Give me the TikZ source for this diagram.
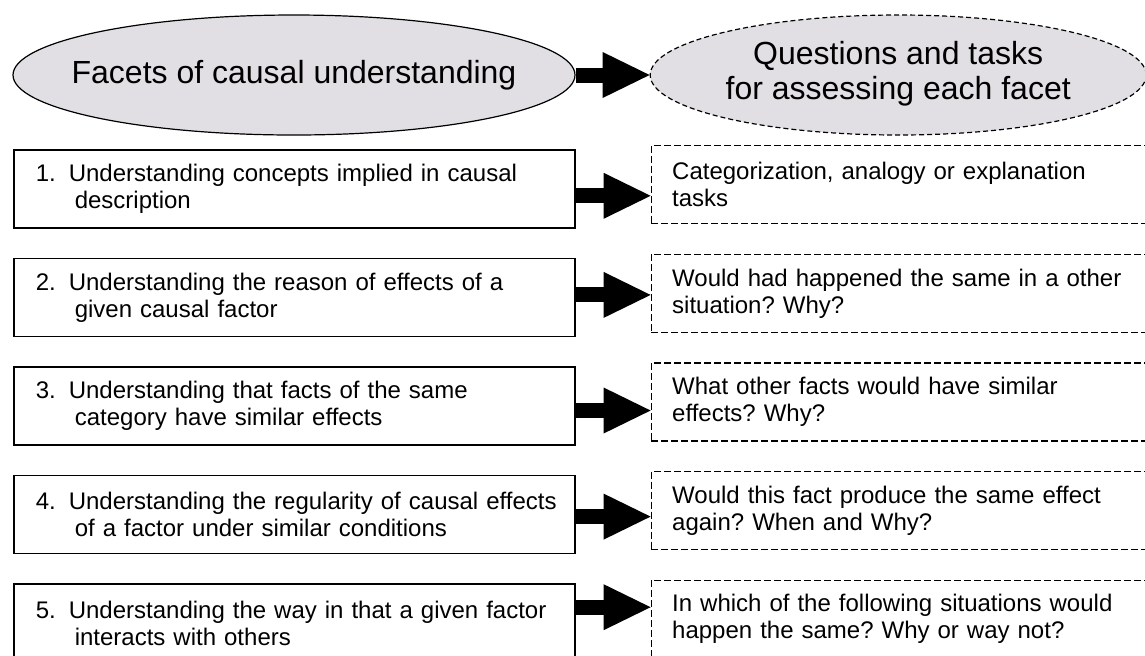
\documentclass[tikz,border=0pt]{standalone}
\usepackage{fontspec}
\setmainfont{Liberation Sans}
\usepackage{tikz}
\usetikzlibrary{positioning}
\usetikzlibrary{shapes.geometric}
\usetikzlibrary{arrows.meta}
\definecolor{ovalgray}{RGB}{225,223,227}
\tikzset{%
  headoval/.style = {ellipse,draw,line width=0.6pt,fill=ovalgray,inner sep=0pt,
        minimum height=60pt,font=\fontsize{16}{17.5}\selectfont},
  facetbox/.style = {rectangle,draw,line width=0.8pt,text width=266pt,
        inner xsep=7.25pt,inner ysep=2pt,minimum height=39pt,align=left,
        font=\fontsize{12}{13.5}\selectfont},
  taskbox/.style = {rectangle,draw,dash pattern=on 3.5pt off 1.5pt,line width=0.6pt,
        text width=234.5pt,inner xsep=10.5pt,inner ysep=2pt,minimum height=39pt,
        align=left,font=\fontsize{12}{13.5}\selectfont},
  bigarrow/.style = {-{Triangle[length=23.5pt,width=23pt,line width=0pt]},line width=7.5pt}
}
\newcommand{\facetno}[1]{\hspace*{3.75pt}\makebox[16.5pt][l]{#1}}
\newcommand{\facetin}{\hspace*{23.25pt}}

\begin{document}
\frenchspacing
\begin{tikzpicture}[x=0.5pt,y=-0.5pt]
                \useasboundingbox (0,0) rectangle (1145,655);
                \clip (0,0) rectangle (1145,655);
                \node[headoval,minimum width=281pt] (fac) at (294,75)
                     {\makebox[0pt]{Facets of causal understanding}};
                \node[headoval,dash pattern=on 2.5pt off 1.5pt,minimum width=248pt] (tsk) [right=37pt of fac]
                     {\makebox[0pt]{\begin{tabular}{@{}c@{}}Questions and tasks\\for assessing each facet\end{tabular}}};
                \draw[bigarrow] (fac) -- (tsk);
                % facets
                \node[facetbox,anchor=north west] (f1) at (13,149)
                     {\facetno{1.}Understanding concepts implied in causal\\\facetin description};
                \node[facetbox] (f2) [below=14.5pt of f1]
                     {\facetno{2.}Understanding the reason of effects of a\\\facetin given causal factor};
                \node[facetbox] (f3) [below=14.5pt of f2]
                     {\facetno{3.}Understanding that facts of the same\\\facetin category have similar effects};
                \node[facetbox] (f4) [below=14.5pt of f3]
                     {\facetno{4.}Understanding the regularity of causal effects\\\facetin of a factor under similar conditions};
                \node[facetbox] (f5) [below=14.5pt of f4]
                     {\facetno{5.}Understanding the way in that a given factor\\\facetin interacts with others};
                % questions and tasks
                \node[taskbox,yshift=2pt] (t1) [right=37.5pt of f1]
                     {Categorization, analogy or explanation\\tasks};
                \node[taskbox,yshift=2pt] (t2) [right=37.5pt of f2]
                     {Would had happened the same in a other\\situation? Why?};
                \node[taskbox,yshift=2pt] (t3) [right=37.5pt of f3]
                     {What other facts would have similar\\effects? Why?};
                \node[taskbox,yshift=2pt] (t4) [right=37.5pt of f4]
                     {Would this fact produce the same effect\\again? When and Why?};
                \node[taskbox,yshift=2pt] (t5) [right=37.5pt of f5]
                     {In which of the following situations would\\happen the same? Why or way not?};
                \draw[bigarrow] ([yshift=-3.5pt]f1.east) -- ([yshift=-3.5pt]f1.east -| t1.west);
                \draw[bigarrow] ([yshift=1.25pt]f2.east) -- ([yshift=1.25pt]f2.east -| t2.west);
                \draw[bigarrow] ([yshift=-2.25pt]f3.east) -- ([yshift=-2.25pt]f3.east -| t3.west);
                \draw[bigarrow] ([yshift=-1pt]f4.east) -- ([yshift=-1pt]f4.east -| t4.west);
                \draw[bigarrow] ([yshift=8pt]f5.east) -- ([yshift=8pt]f5.east -| t5.west);
            \end{tikzpicture}
\end{document}
